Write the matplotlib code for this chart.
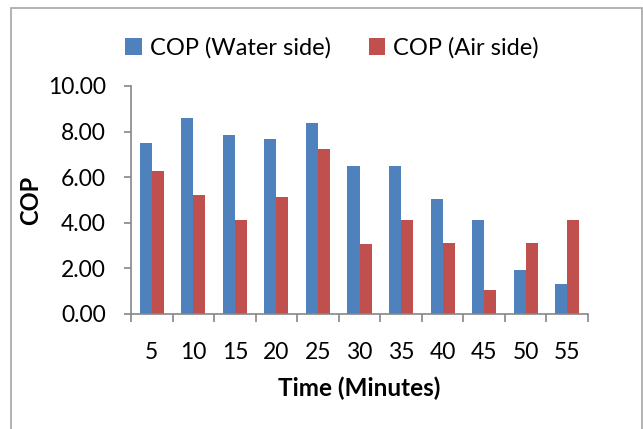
import numpy as np
import matplotlib
matplotlib.use('Agg')
import matplotlib.pyplot as plt
from matplotlib.patches import Rectangle

# data
minutes = ['5', '10', '15', '20', '25', '30', '35', '40', '45', '50', '55']
cop_water = [7.49, 8.58, 7.85, 7.68, 8.38, 6.50, 6.48, 5.04, 4.13, 1.94, 1.33]
cop_air = [6.28, 5.21, 4.13, 5.15, 7.24, 3.08, 4.13, 3.11, 1.04, 3.11, 4.13]
y_ticks = [0, 2, 4, 6, 8, 10]

plt.rcParams['font.family'] = ['Lato', 'DejaVu Sans']

fig = plt.figure(figsize=(6.43, 4.29), dpi=100)
ax = fig.add_axes([131 / 643, 1 - 314 / 429, 457 / 643, 228 / 429])

# outer chart border like the excel chart area
fig.patches.append(Rectangle((11 / 643, -0.05), 631 / 643, 1 - 8 / 429 + 0.05,
                             transform=fig.transFigure, fill=False,
                             edgecolor='#a6a6a6', linewidth=1.2))

x = np.arange(len(minutes))
w = 0.29
ax.bar(x - w / 2, cop_water, w, color='#4F81BD', label='COP (Water side)')
ax.bar(x + w / 2, cop_air, w, color='#C0504D', label='COP (Air side)')

ax.set_xlim(-0.5, len(minutes) - 0.5)
ax.set_ylim(0, 10)
ax.set_yticks(y_ticks)
ax.set_yticklabels([f'{v:.2f}' for v in y_ticks])
ax.set_xticks(x)
ax.set_xticklabels(minutes)
ax.set_xticks(np.arange(-0.5, len(minutes)), minor=True)
ax.tick_params(axis='x', which='major', length=0, pad=20, labelsize=16.5)
ax.tick_params(axis='x', which='minor', length=6, width=1.2, color='#868686', direction='out')
ax.tick_params(axis='y', length=5, width=1.2, color='#868686', pad=13, labelsize=16.5)

for s in ['top', 'right']:
    ax.spines[s].set_visible(False)
for s in ['left', 'bottom']:
    ax.spines[s].set_color('#868686')
    ax.spines[s].set_linewidth(1.2)

ax.set_ylabel('COP', fontsize=17, fontweight='bold', labelpad=4)
ax.set_xlabel('Time (Minutes)', fontsize=17.5, fontweight='bold', labelpad=10)

fig.legend(loc='center', bbox_to_anchor=(332 / 643, 1 - 48 / 429), ncol=2, frameon=False,
           fontsize=17, handlelength=0.7, handleheight=0.7, handletextpad=0.35,
           columnspacing=1.6)

fig.savefig('out.png', dpi=100)
